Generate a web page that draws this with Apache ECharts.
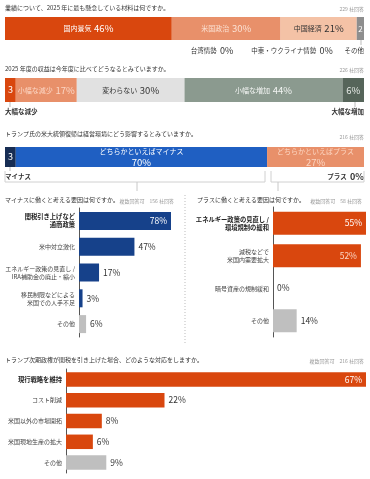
<!DOCTYPE html>
<html><head><meta charset="utf-8">
<script src="https://cdn.jsdelivr.net/npm/echarts@6/dist/echarts.min.js"></script>
<style>html,body{margin:0;padding:0;background:#fff}#c{width:370px;height:479px}</style>
</head><body><div id="c"></div>
<script>
// ---- data ----
const q1Cats = ['国内景気', '米国政治', '中国経済', '台湾情勢', '中東・ウクライナ情勢', 'その他'];
const q1Vals = [46, 30, 21, 0, 0, 2];
const q2Cats = ['大幅な減少', '小幅な減少', '変わらない', '小幅な増加', '大幅な増加'];
const q2Vals = [3, 17, 30, 44, 6];
const q3Cats = ['マイナス', 'どちらかといえばマイナス', 'どちらかといえばプラス', 'プラス'];
const q3Vals = [3, 70, 27, 0];
const minusCats = ['関税引き上げなど\n通商政策', '米中対立激化', 'エネルギー政策の見直し /\nIRA補助金の廃止・縮小', '移民制限などによる\n米国での人手不足', 'その他'];
const minusVals = [78, 47, 17, 3, 6];
const plusCats = ['エネルギー政策の見直し /\n環境規制の緩和', '減税などで\n米国内需要拡大', '暗号資産の規制緩和', 'その他'];
const plusVals = [55, 52, 0, 14];
const respCats = ['現行戦略を維持', 'コスト削減', '米国以外の市場開拓', '米国現地生産の拡大', 'その他'];
const respVals = [67, 22, 8, 6, 9];
const titles = [
  '業績について、2025 年に最も懸念している材料は何ですか。',
  '2025 年度の収益は今年度に比べてどうなるとみていますか。',
  'トランプ氏の米大統領復帰は経営環境にどう影響するとみていますか。',
  'マイナスに働くと考える要因は何ですか。',
  'プラスに働くと考える要因は何ですか。',
  'トランプ次期政権が関税を引き上げた場合、どのような対応をしますか。'
];
const counts = ['229 社回答', '226 社回答', '216 社回答', '複数回答可　156 社回答', '複数回答可　58 社回答', '複数回答可　216 社回答'];

// ---- styles ----
const FONT = '"Noto Sans CJK JP", "Noto Sans", sans-serif';
const OR1 = '#d9470e', OR2 = '#e8906a', OR3 = '#f4c2a6', GR = '#8e8e8e';
const GN1 = '#8b9a8f', GN2 = '#56655a', LG = '#e1e1e1';
const NV0 = '#172d54', BL = '#1f5fc2', NV = '#16418a', BG = '#bfbfbf';
const sum = a => a.reduce((s, v) => s + v, 0);

function segLabel(text, val, color, sz1, sz2, two) {
  const f = text ? ('{a|' + text + '}' + (two ? '\n' : ' ') + '{b|' + val + '%}') : ('{b|' + val + '}');
  return { show: val > 0, position: 'inside', formatter: f,
    rich: { a: { fontSize: sz1, color: color, fontFamily: FONT, lineHeight: sz1 + 3 },
            b: { fontSize: sz2, color: color, fontFamily: FONT, lineHeight: sz2 + 2 } } };
}

function stacked(idx, cats, vals, colors, labels) {
  return cats.map((c, i) => ({
    type: 'bar', name: c, stack: 's' + idx, xAxisIndex: idx, yAxisIndex: idx,
    barWidth: '100%', silent: true, data: [vals[i]],
    itemStyle: { color: colors[i] },
    label: labels[i] || { show: false }
  }));
}

const q1Labels = [
  segLabel(q1Cats[0], q1Vals[0], '#fff', 7, 9.5),
  segLabel(q1Cats[1], q1Vals[1], '#fbe1d3', 7, 9.5),
  segLabel(q1Cats[2], q1Vals[2], '#333', 7, 9.5),
  null, null,
  segLabel(null, q1Vals[5], '#fff', 7, 8)
];
const q2Labels = [
  segLabel(null, q2Vals[0], '#fff', 7, 9),
  segLabel(q2Cats[1], q2Vals[1], '#fbd6c4', 7, 9.5),
  segLabel(q2Cats[2], q2Vals[2], '#333', 7, 9.5),
  segLabel(q2Cats[3], q2Vals[3], '#f2f4f2', 7, 9.5),
  { show: true, position: 'inside', formatter: '{b|' + q2Vals[4] + '%}', rich: { b: { fontSize: 9.5, color: '#e6eae6', fontFamily: FONT } } }
];
const q3Labels = [
  segLabel(null, q3Vals[0], '#fff', 7, 9),
  segLabel(q3Cats[1], q3Vals[1], '#fff', 7, 9.5, true),
  segLabel(q3Cats[2], q3Vals[2], '#fcd6c2', 7, 9.5, true),
  null
];

function catAxis(idx, cats, margin) {
  return { type: 'category', gridIndex: idx, data: cats, inverse: true,
    axisTick: { show: false }, axisLine: { show: true, lineStyle: { color: '#555', width: 1 } },
    axisLabel: { margin: margin, fontFamily: FONT, color: '#444', fontSize: 6, lineHeight: 8,
      formatter: (v, i) => (i === 0 ? '{b|' : '{n|') + v + '}',
      rich: { b: { fontWeight: 'bold', color: '#222', fontSize: 6.3, lineHeight: 8, fontFamily: FONT },
              n: { color: '#444', fontSize: 6, lineHeight: 8, fontFamily: FONT } } } };
}

function barSeries(idx, cats, vals, col, width, insideN, insideColors) {
  return { type: 'bar', xAxisIndex: idx, yAxisIndex: idx, barWidth: width, silent: true,
    label: { show: true, position: 'right', distance: 4, formatter: '{c}%', fontSize: 8.5, color: '#333', fontFamily: FONT },
    data: vals.map((v, i) => ({ value: v,
      itemStyle: { color: cats[i] === 'その他' ? BG : col },
      label: i < insideN ? { position: 'insideRight', color: insideColors[i], distance: 4 } : {} })) };
}

const grids = [
  { left: 5, top: 17, width: 359, height: 23 },
  { left: 5, top: 78, width: 359, height: 24 },
  { left: 5, top: 147, width: 359, height: 20 },
  { left: 79, top: 208, width: 92, height: 129 },
  { left: 273, top: 207, width: 93, height: 130 },
  { left: 66, top: 369, width: 300, height: 104 }
];
const xAxes = [
  { type: 'value', gridIndex: 0, min: 0, max: sum(q1Vals), show: false },
  { type: 'value', gridIndex: 1, min: 0, max: sum(q2Vals), show: false },
  { type: 'value', gridIndex: 2, min: 0, max: sum(q3Vals), show: false },
  { type: 'value', gridIndex: 3, min: 0, max: 'dataMax', show: false },
  { type: 'value', gridIndex: 4, min: 0, max: 'dataMax', show: false },
  { type: 'value', gridIndex: 5, min: 0, max: 'dataMax', show: false }
];
const yAxes = [
  { type: 'category', gridIndex: 0, data: ['q'], show: false },
  { type: 'category', gridIndex: 1, data: ['q'], show: false },
  { type: 'category', gridIndex: 2, data: ['q'], show: false },
  catAxis(3, minusCats, 4),
  catAxis(4, plusCats, 4),
  catAxis(5, respCats, 4)
];

const series = [].concat(
  stacked(0, q1Cats, q1Vals, [OR1, OR2, OR3, OR2, OR2, GR], q1Labels),
  stacked(1, q2Cats, q2Vals, [OR1, OR2, LG, GN1, GN2], q2Labels),
  stacked(2, q3Cats, q3Vals, [NV0, BL, OR2, OR1], q3Labels),
  [barSeries(3, minusCats, minusVals, NV, 18, 1, ['#fff'])],
  [barSeries(4, plusCats, plusVals, OR1, 23, 2, ['#fff', '#fbd6c4'])],
  [barSeries(5, respCats, respVals, OR1, 14.5, 1, ['#fff'])]
);

// ---- decorations ----
function T(x, y, text, opt) {
  return { type: 'text', x: x, y: y, silent: true,
    style: Object.assign({ text: text, fontFamily: FONT, fontSize: 6, fill: '#333', textVerticalAlign: 'middle', textAlign: 'left' }, opt || {}) };
}
function RT(x, y, name, val, align, bold) {
  return { type: 'text', x: x, y: y, silent: true,
    style: { text: '{a|' + name + '} {b|' + val + '%}', textAlign: align || 'center', textVerticalAlign: 'middle',
      rich: { a: { fontSize: 6.5, fill: '#333', fontFamily: FONT, fontWeight: bold ? 'bold' : 'normal' },
              b: { fontSize: 9, fill: '#333', fontFamily: FONT, fontWeight: bold ? 'bold' : 'normal' } } } };
}
function L(pts, opt) {
  return { type: 'polyline', silent: true, shape: { points: pts },
    style: Object.assign({ stroke: '#bbb', lineWidth: 1, fill: null }, opt || {}) };
}
const cntStyle = { fontSize: 5, fill: '#999', textAlign: 'right' };

const graphics = [
  T(5, 8, titles[0]), T(364, 9, counts[0], cntStyle),
  T(5, 69, titles[1]), T(364, 70, counts[1], cntStyle),
  T(5, 134, titles[2]), T(364, 137, counts[2], cntStyle),
  T(5, 200, titles[3]), T(174, 201, counts[3], cntStyle),
  T(197, 200, titles[4]), T(362, 201, counts[4], cntStyle),
  T(5, 360, titles[5]), T(364, 361, counts[5], cntStyle),
  // q1 zero items
  RT(212, 51, q1Cats[3], q1Vals[3]),
  RT(292, 51, q1Cats[4], q1Vals[4]),
  T(364, 51, q1Cats[5], { textAlign: 'right', fontSize: 6.5 }),
  L([[361, 40], [361, 45]]),
  // q2 end labels
  T(5, 112, q2Cats[0], { fontWeight: 'bold', fontSize: 6.5 }),
  T(364, 112, q2Cats[4], { fontWeight: 'bold', textAlign: 'right', fontSize: 6.5 }),
  L([[10, 102], [10, 107]]), L([[355, 102], [355, 107]]),
  // q3 end labels and brackets
  T(5, 177, q3Cats[0], { fontWeight: 'bold', fontSize: 6.5 }),
  RT(364, 177, q3Cats[3], q3Vals[3], 'right', true),
  L([[10, 167], [10, 171]]),
  L([[5, 171], [5, 182], [265, 182], [265, 171]], { stroke: '#d0d0d0' }),
  L([[271, 171], [271, 182], [364, 182], [364, 171]], { stroke: '#d0d0d0' }),
  L([[137, 182], [137, 191]], { stroke: '#c8c8c8' }),
  L([[278, 182], [278, 191]], { stroke: '#c8c8c8' }),
  // divider
  { type: 'line', silent: true, shape: { x1: 185, y1: 195, x2: 185, y2: 345 },
    style: { stroke: '#bbb', lineWidth: 1, lineDash: [1, 2] } }
];

const chart = echarts.init(document.getElementById('c'), null, { renderer: 'canvas' });
chart.setOption({
  animation: false,
  backgroundColor: '#fff',
  textStyle: { fontFamily: FONT },
  grid: grids, xAxis: xAxes, yAxis: yAxes, series: series,
  graphic: graphics
});
</script></body></html>
